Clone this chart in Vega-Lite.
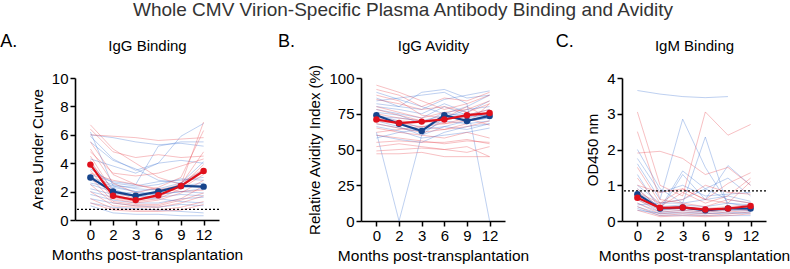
{
  "$schema": "https://vega.github.io/schema/vega-lite/v6.json",
  "padding": {"left": 0, "top": 1, "right": 2, "bottom": 0},
  "background": "white",
  "title": {"text": "Whole CMV Virion-Specific Plasma Antibody Binding and Avidity", "fontSize": 19, "fontWeight": "normal", "color": "#333", "anchor": "middle", "offset": 13, "dx": 8},
  "config": {
    "font": "Liberation Sans",
    "view": {"stroke": null},
    "axis": {"domainColor": "#000", "domainWidth": 1.6, "tickColor": "#000", "tickWidth": 1.5, "tickSize": 5, "labelFontSize": 15, "labelColor": "#000", "labelOverlap": false, "titleFontSize": 15, "titleFontWeight": "normal", "titleColor": "#000", "grid": false, "labelPadding": 2, "titlePadding": 6},
    "axisBottom": {"titleFontSize": 15.5, "titlePadding": 5},
    "axisTop": {"titleFontSize": 15, "titlePadding": 25, "labels": false, "ticks": false, "domain": false},
    "title": {"fontWeight": "normal", "color": "#000"}
  },
  "datasets": {
    "thr": [{"p": "A", "v": 0.75}, {"p": "C", "v": 0.84}],
    "ind": [
      {"p":"A","g":"b","id":"Ab1","m0":6.0,"m2":5.8,"m3":5.5,"m6":5.3,"m9":5.4,"m12":5.2},
      {"p":"A","g":"b","id":"Ab2","m0":5.9,"m2":4.3,"m3":3.5,"m6":4.0,"m9":5.9,"m12":6.8},
      {"p":"A","g":"b","id":"Ab3","m0":5.5,"m2":4.2,"m3":3.6,"m6":2.8,"m9":2.6,"m12":4.1},
      {"p":"A","g":"b","id":"Ab4","m0":4.3,"m2":3.8,"m3":3.3,"m6":4.0,"m9":4.2,"m12":4.0},
      {"p":"A","g":"b","id":"Ab5","m0":3.6,"m2":2.6,"m3":2.4,"m6":2.7,"m9":2.8,"m12":3.0},
      {"p":"A","g":"b","id":"Ab6","m0":3.0,"m2":2.5,"m3":2.2,"m6":2.1,"m9":2.4,"m12":2.3},
      {"p":"A","g":"b","id":"Ab7","m0":2.8,"m2":2.4,"m3":2.3,"m6":2.5,"m9":2.9,"m12":2.8},
      {"p":"A","g":"b","id":"Ab8","m0":2.5,"m2":2.0,"m3":1.9,"m6":1.8,"m9":2.0,"m12":1.9},
      {"p":"A","g":"b","id":"Ab9","m0":2.2,"m2":1.8,"m3":1.7,"m6":1.6,"m9":1.8,"m12":1.7},
      {"p":"A","g":"b","id":"Ab10","m0":2.0,"m2":1.6,"m3":1.5,"m6":1.5,"m9":1.3,"m12":1.2},
      {"p":"A","g":"b","id":"Ab11","m0":1.8,"m2":1.4,"m3":1.2,"m6":1.2,"m9":1.5,"m12":1.6},
      {"p":"A","g":"b","id":"Ab12","m0":1.5,"m2":1.2,"m3":1.0,"m6":0.9,"m9":1.1,"m12":1.0},
      {"p":"A","g":"b","id":"Ab13","m0":1.2,"m2":0.9,"m3":0.8,"m6":0.7,"m9":0.6,"m12":0.5},
      {"p":"A","g":"b","id":"Ab14","m0":3.2,"m2":2.7,"m3":2.5,"m6":5.2,"m9":5.5,"m12":5.5},
      {"p":"A","g":"b","id":"Ab15","m0":4.0,"m2":2.2,"m3":1.6,"m6":1.9,"m9":2.4,"m12":2.6},
      {"p":"A","g":"b","id":"Ab16","m0":1.0,"m2":0.5,"m3":0.4,"m6":0.4,"m9":0.3,"m12":0.3},
      {"p":"A","g":"b","id":"Ab17","m0":2.6,"m2":2.3,"m3":2.0,"m6":2.2,"m9":2.6,"m12":3.5},
      {"p":"A","g":"b","id":"Ab18","m0":6.2,"m2":2.4,"m3":2.0,"m6":1.8,"m9":2.0,"m12":2.2},
      {"p":"A","g":"r","id":"Ar1","m0":6.7,"m2":5.0,"m3":4.0,"m6":3.0,"m9":2.5,"m12":6.9},
      {"p":"A","g":"r","id":"Ar2","m0":6.0,"m2":5.9,"m3":5.8,"m6":5.6,"m9":5.7,"m12":5.8},
      {"p":"A","g":"r","id":"Ar3","m0":5.5,"m2":3.2,"m3":2.5,"m6":2.1,"m9":2.5,"m12":4.8},
      {"p":"A","g":"r","id":"Ar4","m0":5.0,"m2":2.6,"m3":1.9,"m6":2.3,"m9":3.0,"m12":6.3},
      {"p":"A","g":"r","id":"Ar5","m0":4.5,"m2":2.0,"m3":1.5,"m6":1.6,"m9":2.4,"m12":3.9},
      {"p":"A","g":"r","id":"Ar6","m0":4.2,"m2":1.8,"m3":1.4,"m6":1.7,"m9":2.6,"m12":3.6},
      {"p":"A","g":"r","id":"Ar7","m0":3.9,"m2":1.6,"m3":1.3,"m6":1.5,"m9":2.2,"m12":3.2},
      {"p":"A","g":"r","id":"Ar8","m0":3.5,"m2":1.5,"m3":1.2,"m6":1.4,"m9":1.9,"m12":2.8},
      {"p":"A","g":"r","id":"Ar9","m0":3.0,"m2":1.3,"m3":1.1,"m6":1.1,"m9":1.5,"m12":2.4},
      {"p":"A","g":"r","id":"Ar10","m0":2.5,"m2":1.2,"m3":1.0,"m6":1.0,"m9":1.4,"m12":1.9},
      {"p":"A","g":"r","id":"Ar11","m0":2.0,"m2":1.0,"m3":0.9,"m6":0.9,"m9":1.2,"m12":1.7},
      {"p":"A","g":"r","id":"Ar12","m0":1.5,"m2":0.8,"m3":0.7,"m6":0.7,"m9":0.9,"m12":1.3},
      {"p":"A","g":"r","id":"Ar13","m0":1.2,"m2":0.7,"m3":0.6,"m6":0.6,"m9":0.7,"m12":1.1},
      {"p":"A","g":"r","id":"Ar14","m0":6.4,"m2":4.8,"m3":4.4,"m6":4.6,"m9":4.4,"m12":4.5},
      {"p":"A","g":"r","id":"Ar15","m0":4.8,"m2":3.3,"m3":3.1,"m6":3.3,"m9":3.8,"m12":4.3},
      {"p":"A","g":"r","id":"Ar16","m0":3.3,"m2":2.8,"m3":2.5,"m6":2.2,"m9":2.0,"m12":2.1},
      {"p":"A","g":"b","id":"Amb","med":true,"m0":3.0,"m2":2.0,"m3":1.7,"m6":2.0,"m9":2.4,"m12":2.35},
      {"p":"A","g":"r","id":"Amr","med":true,"m0":3.9,"m2":1.7,"m3":1.4,"m6":1.75,"m9":2.4,"m12":3.45},

      {"p":"B","g":"b","id":"Bb1","m0":62,"m2":0,"m3":60,"m6":72,"m9":78,"m12":80},
      {"p":"B","g":"b","id":"Bb2","m0":84,"m2":86,"m3":88,"m6":90,"m9":82,"m12":0},
      {"p":"B","g":"b","id":"Bb3","m0":90,"m2":85,"m3":80,"m6":75,"m9":80,"m12":88},
      {"p":"B","g":"b","id":"Bb4","m0":80,"m2":78,"m3":75,"m6":82,"m9":76,"m12":84},
      {"p":"B","g":"b","id":"Bb5","m0":76,"m2":74,"m3":68,"m6":76,"m9":72,"m12":75},
      {"p":"B","g":"b","id":"Bb6","m0":74,"m2":70,"m3":65,"m6":73,"m9":70,"m12":72},
      {"p":"B","g":"b","id":"Bb7","m0":72,"m2":68,"m3":62,"m6":70,"m9":68,"m12":70},
      {"p":"B","g":"b","id":"Bb8","m0":70,"m2":66,"m3":60,"m6":66,"m9":64,"m12":68},
      {"p":"B","g":"b","id":"Bb9","m0":68,"m2":65,"m3":63,"m6":72,"m9":73,"m12":74},
      {"p":"B","g":"b","id":"Bb10","m0":86,"m2":80,"m3":90,"m6":92,"m9":86,"m12":88},
      {"p":"B","g":"b","id":"Bb11","m0":78,"m2":75,"m3":72,"m6":80,"m9":74,"m12":78},
      {"p":"B","g":"b","id":"Bb12","m0":66,"m2":63,"m3":58,"m6":60,"m9":62,"m12":65},
      {"p":"B","g":"b","id":"Bb13","m0":82,"m2":80,"m3":78,"m6":85,"m9":88,"m12":91},
      {"p":"B","g":"b","id":"Bb14","m0":58,"m2":62,"m3":64,"m6":66,"m9":70,"m12":72},
      {"p":"B","g":"b","id":"Bb15","m0":73,"m2":72,"m3":70,"m6":74,"m9":75,"m12":73},
      {"p":"B","g":"b","id":"Bb16","m0":60,"m2":57,"m3":55,"m6":62,"m9":66,"m12":68},
      {"p":"B","g":"r","id":"Br1","m0":95,"m2":90,"m3":84,"m6":78,"m9":82,"m12":88},
      {"p":"B","g":"r","id":"Br2","m0":92,"m2":88,"m3":80,"m6":86,"m9":84,"m12":90},
      {"p":"B","g":"r","id":"Br3","m0":85,"m2":82,"m3":78,"m6":80,"m9":76,"m12":82},
      {"p":"B","g":"r","id":"Br4","m0":80,"m2":76,"m3":72,"m6":76,"m9":78,"m12":84},
      {"p":"B","g":"r","id":"Br5","m0":75,"m2":72,"m3":70,"m6":72,"m9":74,"m12":78},
      {"p":"B","g":"r","id":"Br6","m0":72,"m2":70,"m3":69,"m6":71,"m9":73,"m12":76},
      {"p":"B","g":"r","id":"Br7","m0":70,"m2":68,"m3":66,"m6":68,"m9":70,"m12":74},
      {"p":"B","g":"r","id":"Br8","m0":68,"m2":65,"m3":62,"m6":64,"m9":66,"m12":70},
      {"p":"B","g":"r","id":"Br9","m0":65,"m2":62,"m3":60,"m6":58,"m9":62,"m12":58},
      {"p":"B","g":"r","id":"Br10","m0":60,"m2":58,"m3":56,"m6":54,"m9":56,"m12":55},
      {"p":"B","g":"r","id":"Br11","m0":55,"m2":56,"m3":55,"m6":55,"m9":57,"m12":54},
      {"p":"B","g":"r","id":"Br12","m0":52,"m2":54,"m3":52,"m6":50,"m9":48,"m12":52},
      {"p":"B","g":"r","id":"Br13","m0":49,"m2":50,"m3":51,"m6":50,"m9":52,"m12":45},
      {"p":"B","g":"r","id":"Br14","m0":47,"m2":47,"m3":48,"m6":45,"m9":45,"m12":45},
      {"p":"B","g":"r","id":"Br15","m0":88,"m2":84,"m3":74,"m6":72,"m9":80,"m12":72},
      {"p":"B","g":"r","id":"Br16","m0":78,"m2":74,"m3":70,"m6":68,"m9":72,"m12":67},
      {"p":"B","g":"r","id":"Br17","m0":62,"m2":64,"m3":66,"m6":64,"m9":68,"m12":82},
      {"p":"B","g":"b","id":"Bmb","med":true,"m0":74,"m2":68,"m3":63,"m6":74,"m9":70,"m12":73.5},
      {"p":"B","g":"r","id":"Bmr","med":true,"m0":71,"m2":68.5,"m3":69.5,"m6":71,"m9":74,"m12":75.5},

      {"p":"C","g":"b","id":"Cb1","m0":3.65,"m2":3.55,"m3":3.48,"m6":3.45,"m9":3.48,"m12":null},
      {"p":"C","g":"b","id":"Cb2","m0":1.6,"m2":0.6,"m3":2.85,"m6":1.5,"m9":0.5,"m12":0.4},
      {"p":"C","g":"b","id":"Cb3","m0":2.0,"m2":0.9,"m3":0.5,"m6":2.35,"m9":0.4,"m12":0.3},
      {"p":"C","g":"b","id":"Cb4","m0":1.3,"m2":0.3,"m3":1.3,"m6":0.6,"m9":1.55,"m12":1.0},
      {"p":"C","g":"b","id":"Cb5","m0":1.0,"m2":0.5,"m3":0.6,"m6":0.9,"m9":1.2,"m12":0.7},
      {"p":"C","g":"b","id":"Cb6","m0":0.8,"m2":0.4,"m3":0.45,"m6":0.4,"m9":0.5,"m12":0.45},
      {"p":"C","g":"b","id":"Cb7","m0":0.6,"m2":0.3,"m3":0.35,"m6":0.3,"m9":0.35,"m12":0.3},
      {"p":"C","g":"b","id":"Cb8","m0":0.5,"m2":0.25,"m3":0.3,"m6":0.25,"m9":0.3,"m12":0.28},
      {"p":"C","g":"b","id":"Cb9","m0":0.4,"m2":0.2,"m3":0.2,"m6":0.2,"m9":0.25,"m12":0.2},
      {"p":"C","g":"b","id":"Cb10","m0":0.35,"m2":0.15,"m3":0.15,"m6":0.15,"m9":0.15,"m12":0.15},
      {"p":"C","g":"b","id":"Cb11","m0":0.3,"m2":0.22,"m3":0.25,"m6":0.22,"m9":0.2,"m12":0.25},
      {"p":"C","g":"b","id":"Cb12","m0":1.75,"m2":0.8,"m3":1.0,"m6":0.7,"m9":0.75,"m12":0.8},
      {"p":"C","g":"b","id":"Cb13","m0":0.9,"m2":0.35,"m3":1.4,"m6":0.9,"m9":0.6,"m12":0.5},
      {"p":"C","g":"b","id":"Cb14","m0":0.45,"m2":0.5,"m3":0.5,"m6":0.6,"m9":0.7,"m12":0.55},
      {"p":"C","g":"r","id":"Cr1","m0":3.05,"m2":1.0,"m3":0.7,"m6":3.05,"m9":2.4,"m12":2.7},
      {"p":"C","g":"r","id":"Cr2","m0":2.5,"m2":0.6,"m3":0.5,"m6":0.4,"m9":0.6,"m12":0.5},
      {"p":"C","g":"r","id":"Cr3","m0":1.9,"m2":1.95,"m3":1.75,"m6":1.3,"m9":1.5,"m12":1.0},
      {"p":"C","g":"r","id":"Cr4","m0":1.5,"m2":0.5,"m3":0.9,"m6":0.6,"m9":1.05,"m12":1.35},
      {"p":"C","g":"r","id":"Cr5","m0":1.2,"m2":0.4,"m3":0.8,"m6":0.5,"m9":0.7,"m12":1.2},
      {"p":"C","g":"r","id":"Cr6","m0":0.9,"m2":0.35,"m3":0.4,"m6":0.35,"m9":0.4,"m12":0.45},
      {"p":"C","g":"r","id":"Cr7","m0":0.7,"m2":0.3,"m3":0.35,"m6":0.3,"m9":0.35,"m12":0.4},
      {"p":"C","g":"r","id":"Cr8","m0":0.6,"m2":0.25,"m3":0.3,"m6":0.25,"m9":0.3,"m12":0.35},
      {"p":"C","g":"r","id":"Cr9","m0":0.5,"m2":0.2,"m3":0.25,"m6":0.2,"m9":0.25,"m12":0.3},
      {"p":"C","g":"r","id":"Cr10","m0":0.4,"m2":0.15,"m3":0.2,"m6":0.15,"m9":0.2,"m12":0.25},
      {"p":"C","g":"r","id":"Cr11","m0":0.3,"m2":0.12,"m3":0.15,"m6":0.12,"m9":0.15,"m12":0.2},
      {"p":"C","g":"r","id":"Cr12","m0":1.0,"m2":0.8,"m3":0.9,"m6":0.6,"m9":0.5,"m12":1.1},
      {"p":"C","g":"r","id":"Cr13","m0":0.8,"m2":0.5,"m3":0.6,"m6":1.0,"m9":0.8,"m12":0.75},
      {"p":"C","g":"b","id":"Cmb","med":true,"m0":0.75,"m2":0.35,"m3":0.38,"m6":0.3,"m9":0.35,"m12":0.35},
      {"p":"C","g":"r","id":"Cmr","med":true,"m0":0.65,"m2":0.37,"m3":0.38,"m6":0.32,"m9":0.35,"m12":0.42}
    ]
  },
  "spacing": 34,
  "hconcat": [
    {
      "title": {"text": "A.", "anchor": "start", "frame": "bounds", "fontSize": 18, "dx": -30, "offset": -13},
      "width": 144, "height": 142,
      "layer": [
        {"data": {"name": "ind"}, "transform": [{"filter": "datum.p==='A' && !datum.med"}, {"fold": ["m0","m2","m3","m6","m9","m12"], "as": ["k","v"]}],
         "mark": {"type": "line", "strokeWidth": 1, "opacity": 0.33},
         "encoding": {
           "x": {"field": "k", "type": "ordinal", "sort": ["m0","m2","m3","m6","m9","m12"], "scale": {"type": "point", "padding": 0.68}, "axis": {"labelExpr": "replace(datum.label,'m','')", "labelAngle": 0, "title": "Months post-transplantation"}},
           "y": {"field": "v", "type": "quantitative", "scale": {"domain": [0, 10]}, "axis": {"values": [0,2,4,6,8,10], "tickCount": 10, "format": "d", "title": "Area Under Curve"}},
           "detail": {"field": "id"},
           "color": {"field": "g", "type": "nominal", "scale": {"domain": ["b","r"], "range": ["#3a6fd0","#e8404a"]}, "legend": null}}},
        {"data": {"name": "thr"}, "transform": [{"filter": "datum.p==='A'"}],
         "mark": {"type": "rule", "strokeDash": [2,2], "color": "#000", "strokeWidth": 1.3},
         "encoding": {"y": {"field": "v", "type": "quantitative", "axis": {"values": [0,2,4,6,8,10], "tickCount": 10, "format": "d", "title": "Area Under Curve"}}}},
        {"data": {"name": "ind"}, "transform": [{"filter": "datum.p==='A' && datum.med"}, {"fold": ["m0","m2","m3","m6","m9","m12"], "as": ["k","v"]}],
         "mark": {"type": "line", "strokeWidth": 2.2},
         "encoding": {
           "x": {"field": "k", "type": "ordinal", "sort": ["m0","m2","m3","m6","m9","m12"], "axis": null},
           "y": {"field": "v", "type": "quantitative"},
           "detail": {"field": "id"},
           "color": {"field": "g", "type": "nominal", "scale": {"domain": ["b","r"], "range": ["#16448c","#e0101c"]}, "legend": null}}},
        {"data": {"name": "ind"}, "transform": [{"filter": "datum.p==='A' && datum.med"}, {"fold": ["m0","m2","m3","m6","m9","m12"], "as": ["k","v"]}],
         "mark": {"type": "circle", "size": 42, "opacity": 1},
         "encoding": {
           "x": {"field": "k", "type": "ordinal", "sort": ["m0","m2","m3","m6","m9","m12"], "axis": {"orient": "top", "title": "IgG Binding"}},
           "y": {"field": "v", "type": "quantitative"},
           "color": {"field": "g", "type": "nominal", "scale": {"domain": ["b","r"], "range": ["#16448c","#e0101c"]}, "legend": null}}}
      ],
      "resolve": {"scale": {"color": "independent"}, "axis": {"x": "independent"}}
    },
    {
      "spacing": 26,
      "hconcat": [
        {
          "title": {"text": "B.", "anchor": "start", "frame": "bounds", "fontSize": 18, "dx": -30, "offset": -13},
          "width": 144, "height": 143,
          "layer": [
            {"data": {"name": "ind"}, "transform": [{"filter": "datum.p==='B' && !datum.med"}, {"fold": ["m0","m2","m3","m6","m9","m12"], "as": ["k","v"]}],
             "mark": {"type": "line", "strokeWidth": 1, "opacity": 0.33},
             "encoding": {
               "x": {"field": "k", "type": "ordinal", "sort": ["m0","m2","m3","m6","m9","m12"], "scale": {"type": "point", "padding": 0.68}, "axis": {"labelExpr": "replace(datum.label,'m','')", "labelAngle": 0, "title": "Months post-transplantation"}},
               "y": {"field": "v", "type": "quantitative", "scale": {"domain": [0, 100]}, "axis": {"values": [0,25,50,75,100], "tickCount": 10, "format": "d", "title": "Relative Avidity Index (%)"}},
               "detail": {"field": "id"},
               "color": {"field": "g", "type": "nominal", "scale": {"domain": ["b","r"], "range": ["#3a6fd0","#e8404a"]}, "legend": null}}},
            {"data": {"name": "ind"}, "transform": [{"filter": "datum.p==='B' && datum.med"}, {"fold": ["m0","m2","m3","m6","m9","m12"], "as": ["k","v"]}],
             "mark": {"type": "line", "strokeWidth": 2.2},
             "encoding": {
               "x": {"field": "k", "type": "ordinal", "sort": ["m0","m2","m3","m6","m9","m12"], "axis": null},
               "y": {"field": "v", "type": "quantitative"},
               "detail": {"field": "id"},
               "color": {"field": "g", "type": "nominal", "scale": {"domain": ["b","r"], "range": ["#16448c","#e0101c"]}, "legend": null}}},
            {"data": {"name": "ind"}, "transform": [{"filter": "datum.p==='B' && datum.med"}, {"fold": ["m0","m2","m3","m6","m9","m12"], "as": ["k","v"]}],
             "mark": {"type": "circle", "size": 42, "opacity": 1},
             "encoding": {
               "x": {"field": "k", "type": "ordinal", "sort": ["m0","m2","m3","m6","m9","m12"], "axis": {"orient": "top", "title": "IgG Avidity"}},
               "y": {"field": "v", "type": "quantitative"},
               "color": {"field": "g", "type": "nominal", "scale": {"domain": ["b","r"], "range": ["#16448c","#e0101c"]}, "legend": null}}}
          ],
          "resolve": {"scale": {"color": "independent"}, "axis": {"x": "independent"}}
        },
        {
          "title": {"text": "C.", "anchor": "start", "frame": "bounds", "fontSize": 18, "dx": -30, "offset": -13},
          "width": 144, "height": 143,
          "layer": [
            {"data": {"name": "ind"}, "transform": [{"filter": "datum.p==='C' && !datum.med"}, {"fold": ["m0","m2","m3","m6","m9","m12"], "as": ["k","v"]}],
             "mark": {"type": "line", "strokeWidth": 1, "opacity": 0.33},
             "encoding": {
               "x": {"field": "k", "type": "ordinal", "sort": ["m0","m2","m3","m6","m9","m12"], "scale": {"type": "point", "padding": 0.68}, "axis": {"labelExpr": "replace(datum.label,'m','')", "labelAngle": 0, "title": "Months post-transplantation"}},
               "y": {"field": "v", "type": "quantitative", "scale": {"domain": [0, 4]}, "axis": {"values": [0,1,2,3,4], "tickCount": 10, "format": "d", "title": "OD450 nm"}},
               "detail": {"field": "id"},
               "color": {"field": "g", "type": "nominal", "scale": {"domain": ["b","r"], "range": ["#3a6fd0","#e8404a"]}, "legend": null}}},
            {"data": {"name": "thr"}, "transform": [{"filter": "datum.p==='C'"}],
             "mark": {"type": "rule", "strokeDash": [2,2], "color": "#000", "strokeWidth": 1.3},
             "encoding": {"y": {"field": "v", "type": "quantitative", "axis": {"values": [0,1,2,3,4], "tickCount": 10, "format": "d", "title": "OD450 nm"}}}},
            {"data": {"name": "ind"}, "transform": [{"filter": "datum.p==='C' && datum.med"}, {"fold": ["m0","m2","m3","m6","m9","m12"], "as": ["k","v"]}],
             "mark": {"type": "line", "strokeWidth": 2.2},
             "encoding": {
               "x": {"field": "k", "type": "ordinal", "sort": ["m0","m2","m3","m6","m9","m12"], "axis": null},
               "y": {"field": "v", "type": "quantitative"},
               "detail": {"field": "id"},
               "color": {"field": "g", "type": "nominal", "scale": {"domain": ["b","r"], "range": ["#16448c","#e0101c"]}, "legend": null}}},
            {"data": {"name": "ind"}, "transform": [{"filter": "datum.p==='C' && datum.med"}, {"fold": ["m0","m2","m3","m6","m9","m12"], "as": ["k","v"]}],
             "mark": {"type": "circle", "size": 42, "opacity": 1},
             "encoding": {
               "x": {"field": "k", "type": "ordinal", "sort": ["m0","m2","m3","m6","m9","m12"], "axis": {"orient": "top", "title": "IgM Binding"}},
               "y": {"field": "v", "type": "quantitative"},
               "color": {"field": "g", "type": "nominal", "scale": {"domain": ["b","r"], "range": ["#16448c","#e0101c"]}, "legend": null}}}
          ],
          "resolve": {"scale": {"color": "independent"}, "axis": {"x": "independent"}}
        }
      ]
    }
  ]
}
